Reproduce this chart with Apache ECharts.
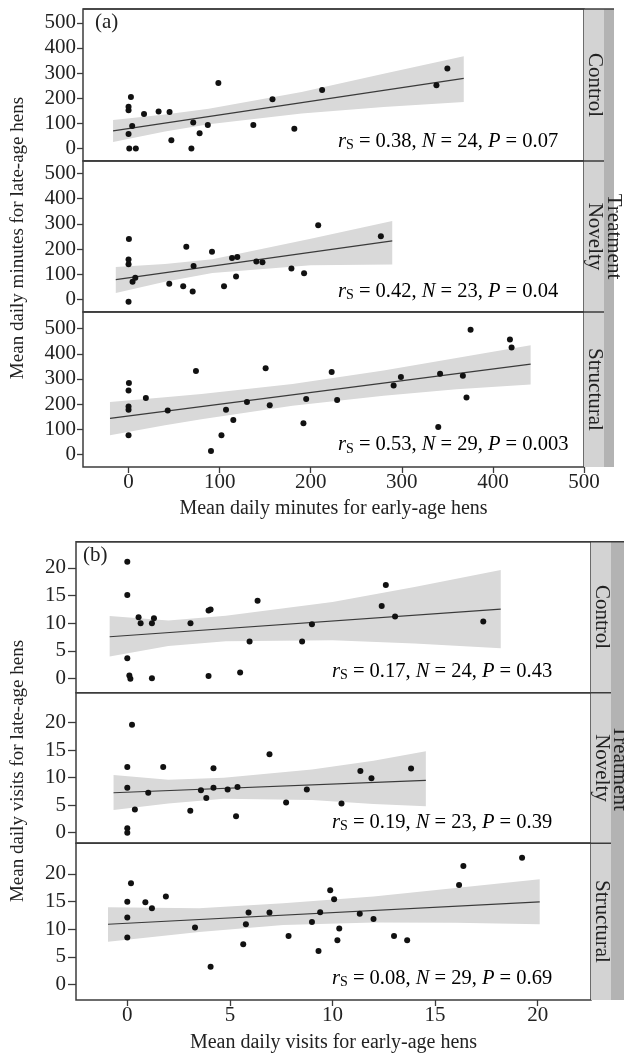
<!DOCTYPE html>
<html><head><meta charset="utf-8">
<script src="https://cdn.jsdelivr.net/npm/echarts@6/dist/echarts.min.js"></script>
<style>html,body{margin:0;padding:0;background:#fff}#c{width:624px;height:1055px}</style>
</head><body><div id="c"></div>
<script>
// ---------- data ----------
const minTicksX = [0, 100, 200, 300, 400, 500];
const minTicksY = [0, 100, 200, 300, 400, 500];
const visTicksX = [0, 5, 10, 15, 20];
const visTicksY = [0, 5, 10, 15, 20];
const facetNames = ['Control', 'Novelty', 'Structural'];

const minCtrl = [[0.8,0],[8,0],[0,57],[4,89],[0,152],[0,166],[2.6,205],[17,137],[33,147],[45,145],[47,33],[69,0],[71,103],[78,60],[87,93],[98.6,260],[137,93],[158,196],[182,78],[212.5,233],[338,252],[350,318]];
const minNov = [[0.4,240],[0,159],[0,140],[4.4,71],[7.4,87],[0,-8],[44.7,63],[60,53],[63.4,209],[70.4,32],[71.4,133],[91.6,190],[104.8,53],[113.6,165],[118,92],[119.4,169],[140.3,151],[147,148],[178.8,123],[192.7,104],[208.2,295],[277,251]];
const minStr = [[0.4,284],[0,254],[0,190],[0,178],[0,76],[19,224],[43,175],[74,332],[90.5,14],[102,76],[107,178],[115,137],[130,208],[150.5,342],[155,195],[192,124],[195,220],[223,328],[229,216],[291,274],[299,308],[340,109],[342,321],[367,313],[371,226],[375.5,495],[418.7,457],[420.5,425]];

const visCtrl = [[0,21.1],[0,15.1],[0.55,11.1],[0.65,10.0],[1.2,10.0],[1.3,10.9],[3.08,10.0],[3.96,12.3],[4.06,12.5],[6.35,14.05],[5.96,6.7],[8.52,6.7],[9.0,9.8],[0,3.7],[0.1,0.6],[0.15,0],[1.2,0.1],[3.96,0.5],[5.5,1.1],[12.6,16.9],[12.4,13.1],[13.05,11.2],[17.35,10.3]];
const visNov = [[0.23,19.6],[0,11.9],[0,8.15],[0.37,4.2],[0,0.8],[0,0],[1.02,7.25],[1.75,11.9],[3.07,4.0],[3.59,7.7],[3.85,6.3],[4.2,11.7],[4.2,8.15],[4.89,7.85],[5.37,8.3],[5.3,3.0],[6.93,14.25],[7.74,5.5],[8.75,7.85],[10.44,5.3],[11.36,11.2],[11.9,9.9],[13.83,11.65]];
const visStr = [[0.18,18.3],[0,14.95],[0,12.1],[0,8.5],[0.88,14.85],[1.2,13.8],[1.88,15.9],[3.3,10.3],[4.06,3.25],[5.65,7.3],[5.78,10.9],[5.91,13.0],[6.93,13.0],[7.86,8.8],[9.0,11.3],[9.32,6.07],[9.4,13.05],[9.89,17.05],[10.08,15.4],[10.24,8.0],[10.33,10.15],[11.33,12.8],[12.0,11.85],[13.0,8.8],[13.64,8.0],[16.17,18.0],[16.38,21.4],[19.24,22.9]];

// fitted lines (read endpoints)
const fitMinCtrl = [[-17,70],[368,279]];
const fitMinNov = [[-14,79],[289.5,233]];
const fitMinStr = [[-20.4,143],[441.4,359]];
const fitVisCtrl = [[-0.86,7.57],[18.2,12.56]];
const fitVisNov = [[-0.67,7.25],[14.55,9.5]];
const fitVisStr = [[-0.94,10.9],[20.1,14.95]];

// confidence bands [x, lower, upper]
const bandMinCtrl = [[-17,26,113],[40,67,135],[88,96,158],[190,139,225],[280,165,297],[368,185,367]];
const bandMinNov = [[-14,26,129],[40,71,141],[92,105,160],[200,136,241],[289.5,139,311]];
const bandMinStr = [[-20.4,76,208],[40,116,227],[80,140,240],[180,193,280],[280,233,334],[360,259,383],[441.4,278,434]];
const bandVisCtrl = [[-0.86,4.0,11.3],[2,5.9,10.5],[4.8,6.75,11.35],[10,6.95,13.85],[14,6.35,16.55],[18.2,5.5,19.6]];
const bandVisNov = [[-0.67,4.1,10.45],[2,5.3,9.6],[4.7,6.15,9.95],[9,5.95,11.45],[12,5.2,13.05],[14.55,4.8,14.8]];
const bandVisStr = [[-0.94,7.75,13.95],[3.5,9.5,13.8],[7.6,10.75,14.7],[12,11.2,15.9],[16,11.15,17.45],[20.1,10.9,19.0]];

const statsMin = [['0.38','24','0.07'],['0.42','23','0.04'],['0.53','29','0.003']];
const statsVis = [['0.17','24','0.43'],['0.19','23','0.39'],['0.08','29','0.69']];

// ---------- layout / style ----------
const FONT = '"Liberation Serif","DejaVu Serif",serif';
const TXT = '#222';
const FRAME = '#3c3c3c';
const BAND = '#d9d9d9';
const LIGHT = '#d3d3d3';
const DARK = '#b3b3b3';
const TICKFS = 21;

const panels = [
  {top:9, h:152, left:83, w:501, xr:[-50,500], yr:[-50,555], pts:minCtrl, fit:fitMinCtrl, band:bandMinCtrl, xt:minTicksX, yt:minTicksY, bottom:false, tick:6, margin:7},
  {top:161, h:151, left:83, w:501, xr:[-50,500], yr:[-49,549], pts:minNov, fit:fitMinNov, band:bandMinNov, xt:minTicksX, yt:minTicksY, bottom:false, tick:6, margin:7},
  {top:312, h:155, left:83, w:501, xr:[-50,500], yr:[-50,566], pts:minStr, fit:fitMinStr, band:bandMinStr, xt:minTicksX, yt:minTicksY, bottom:true, tick:6, margin:7},
  {top:541.7, h:151, left:76, w:515, xr:[-2.5,22.6], yr:[-2.52,24.7], pts:visCtrl, fit:fitVisCtrl, band:bandVisCtrl, xt:visTicksX, yt:visTicksY, bottom:false, tick:8, margin:10},
  {top:692.7, h:150.6, left:76, w:515, xr:[-2.5,22.6], yr:[-1.92,25.4], pts:visNov, fit:fitVisNov, band:bandVisNov, xt:visTicksX, yt:visTicksY, bottom:false, tick:8, margin:10},
  {top:843.3, h:156.7, left:76, w:515, xr:[-2.5,22.6], yr:[-2.76,25.5], pts:visStr, fit:fitVisStr, band:bandVisStr, xt:visTicksX, yt:visTicksY, bottom:true, tick:8, margin:10}
];

const grid = [], xAxis = [], yAxis = [], series = [];
panels.forEach((p, i) => {
  grid.push({left:p.left, top:p.top, width:p.w, height:p.h, show:true, borderColor:FRAME, borderWidth:1.5, backgroundColor:'#fff'});
  xAxis.push({type:'value', gridIndex:i, min:p.xr[0], max:p.xr[1], position:'bottom',
    axisLine:{show:false, onZero:false}, splitLine:{show:false},
    axisTick:{show:p.bottom, customValues:p.xt, length:6, lineStyle:{color:FRAME, width:1.3}},
    axisLabel:{show:p.bottom, customValues:p.xt, fontFamily:FONT, fontSize:TICKFS, color:TXT, margin:5}});
  yAxis.push({type:'value', gridIndex:i, min:p.yr[0], max:p.yr[1], position:'left',
    axisLine:{show:false, onZero:false}, splitLine:{show:false},
    axisTick:{show:true, customValues:p.yt, length:p.tick, lineStyle:{color:FRAME, width:1.3}},
    axisLabel:{customValues:p.yt, fontFamily:FONT, fontSize:TICKFS, color:TXT, margin:p.margin}});
  const band = p.band;
  series.push({type:'custom', xAxisIndex:i, yAxisIndex:i, data:[[band[0][0], band[0][1]]], silent:true, z:1, clip:false,
    renderItem:function(params, api){
      const pts = [];
      band.forEach(b => pts.push(api.coord([b[0], b[2]])));
      for (let k = band.length - 1; k >= 0; k--) pts.push(api.coord([band[k][0], band[k][1]]));
      return {type:'polygon', shape:{points:pts}, style:{fill:BAND}};
    }});
  series.push({type:'line', xAxisIndex:i, yAxisIndex:i, data:p.fit, showSymbol:false, silent:true, z:3,
    lineStyle:{color:'#3a3a3a', width:1.2}});
  series.push({type:'scatter', xAxisIndex:i, yAxisIndex:i, data:p.pts, symbolSize:6, z:4,
    itemStyle:{color:'#111', opacity:1}});
});

function statText(s){
  return '{i|r}{sub|S}{n| = ' + s[0] + ', }{i|N}{n| = ' + s[1] + ', }{i|P}{n| = ' + s[2] + '}';
}
const STATFS = 20.5;
const rich = {
  n:{fontFamily:FONT, fontSize:STATFS, lineHeight:22, color:TXT},
  i:{fontFamily:FONT, fontSize:STATFS, lineHeight:22, color:TXT, fontStyle:'italic'},
  sub:{fontFamily:FONT, fontSize:14, lineHeight:14, color:TXT, padding:[8,0,0,0], verticalAlign:'bottom'}
};

const graphic = [];
function rect(x, y, w, h, c){ graphic.push({type:'rect', shape:{x:x, y:y, width:w, height:h}, style:{fill:c}, z:10}); }
function hline(x1, x2, y){ graphic.push({type:'line', shape:{x1:x1, y1:y, x2:x2, y2:y}, style:{stroke:FRAME, lineWidth:1.5}, z:12}); }
function txt(t, x, y, rot, align, size){
  graphic.push({type:'text', x:x, y:y, rotation:rot || 0, z:14,
    style:{text:t, fontFamily:FONT, fontSize:size || 20, fill:TXT, align:align || 'center', verticalAlign:'middle'}});
}
// strips
rect(584, 9, 20, 458, LIGHT); rect(604, 9, 10, 458, DARK);
rect(591, 541.7, 20, 458.3, LIGHT); rect(611, 541.7, 13, 458.3, DARK);
hline(83, 614, 9); hline(83, 604, 161); hline(83, 604, 312);
hline(76, 624, 541.7); hline(76, 611, 692.7); hline(76, 611, 843.3);
// strip labels
const stripA = [85, 236.5, 389.5], stripB = [617, 768, 921.5];
facetNames.forEach((n, k) => { txt(n, 595, stripA[k], -Math.PI/2, 'center', 21); txt(n, 601.5, stripB[k], -Math.PI/2, 'center', 21); });
txt('Treatment', 613.5, 236.5, -Math.PI/2, 'center', 21);
txt('Treatment', 620, 768, -Math.PI/2, 'center', 21);
// axis titles
txt('Mean daily minutes for late-age hens', 18, 238, Math.PI/2, 'center', 19);
txt('Mean daily visits for late-age hens', 18, 771, Math.PI/2, 'center', 19);
txt('Mean daily minutes for early-age hens', 333.5, 509, 0);
txt('Mean daily visits for early-age hens', 333.5, 1043, 0);
// panel tags
txt('(a)', 95, 22.7, 0, 'left', 21);
txt('(b)', 83, 555, 0, 'left', 21);
// stats
const statYA = [141.7, 291.7, 445], statYB = [671.7, 822.7, 978.3];
statsMin.forEach((s, k) => graphic.push({type:'text', x:338, y:statYA[k], z:14, style:{text:statText(s), rich:rich, align:'left', verticalAlign:'middle'}}));
statsVis.forEach((s, k) => graphic.push({type:'text', x:332, y:statYB[k], z:14, style:{text:statText(s), rich:rich, align:'left', verticalAlign:'middle'}}));

const chart = echarts.init(document.getElementById('c'), null, {renderer:'canvas'});
chart.setOption({animation:false, backgroundColor:'#fff', grid:grid, xAxis:xAxis, yAxis:yAxis, series:series, graphic:graphic});
</script></body></html>
